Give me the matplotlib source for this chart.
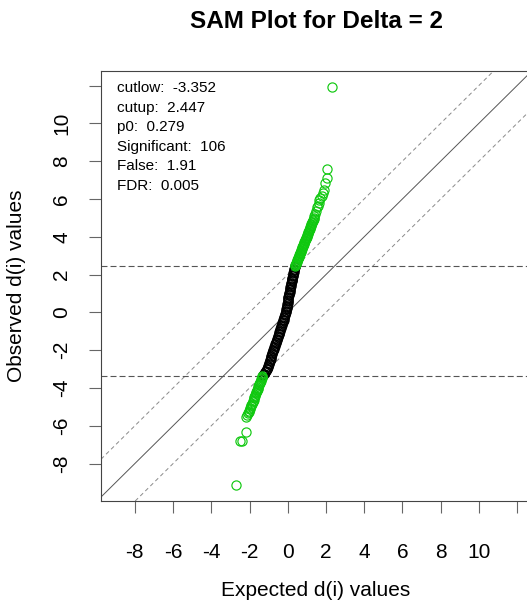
import matplotlib
matplotlib.use("Agg")
import matplotlib.pyplot as plt

plt.rcParams['font.family'] = ['Liberation Sans', 'DejaVu Sans']
plt.rcParams['lines.scale_dashes'] = False

# ---------------- data ----------------
title = "SAM Plot for Delta = 2"
xlabel = "Expected d(i) values"
ylabel = "Observed d(i) values"
delta = 2
cutlow = -3.352
cutup = 2.447
info_lines = ["cutlow:  -3.352", "cutup:  2.447", "p0:  0.279",
              "Significant:  106", "False:  1.91", "FDR:  0.005"]
tick_values = [-8, -6, -4, -2, 0, 2, 4, 6, 8, 10, 12]
tick_labels = ["-8", "-6", "-4", "-2", "0", "2", "4", "6", "8", "10", ""]

# non-significant genes (black)
ns_observed = [-3.34, -3.27, -3.17, -3.12, -3.02, -2.97, -2.88, -2.82, -2.73, -2.67,
               -2.58, -2.53, -2.45, -2.36, -2.30, -2.21, -2.16, -2.06, -2.01, -1.93,
               -1.84, -1.79, -1.69, -1.64, -1.56, -1.47, -1.42, -1.32, -1.27, -1.17,
               -1.12, -1.03, -0.97, -0.88, -0.82, -0.73, -0.68, -0.58, -0.53, -0.43,
               -0.38, -0.29, -0.23, -0.14, -0.08, 0.01, 0.06, 0.16, 0.21, 0.31,
               0.36, 0.45, 0.51, 0.60, 0.66, 0.75, 0.80, 0.90, 0.95, 1.05,
               1.10, 1.19, 1.25, 1.34, 1.40, 1.49, 1.54, 1.64, 1.69, 1.79,
               1.84, 1.93, 1.99, 2.08, 2.14, 2.23, 2.28, 2.38, 2.44]
ns_expected = [-1.30, -1.25, -1.19, -1.16, -1.10, -1.07, -1.04, -1.02, -0.99, -0.97,
               -0.94, -0.93, -0.90, -0.87, -0.85, -0.82, -0.81, -0.77, -0.76, -0.73,
               -0.70, -0.69, -0.65, -0.64, -0.61, -0.58, -0.56, -0.53, -0.52, -0.48,
               -0.47, -0.44, -0.42, -0.39, -0.37, -0.34, -0.32, -0.29, -0.27, -0.24,
               -0.22, -0.19, -0.18, -0.15, -0.13, -0.10, -0.09, -0.07, -0.06, -0.04,
               -0.04, -0.02, -0.01, 0.01, 0.02, 0.04, 0.04, 0.06, 0.07, 0.09,
               0.10, 0.12, 0.13, 0.14, 0.15, 0.17, 0.18, 0.20, 0.21, 0.23,
               0.24, 0.26, 0.28, 0.30, 0.31, 0.33, 0.34, 0.36, 0.38]

# significant genes, positive side (green)
up_observed = [2.47, 2.50, 2.54, 2.58, 2.63, 2.67, 2.71, 2.76, 2.80, 2.85,
               2.89, 2.94, 2.98, 3.03, 3.07, 3.12, 3.16, 3.21, 3.26, 3.30,
               3.35, 3.39, 3.44, 3.49, 3.53, 3.58, 3.63, 3.67, 3.72, 3.77,
               3.82, 3.86, 3.91, 3.96, 4.01, 4.06, 4.11, 4.16, 4.21, 4.26,
               4.31, 4.36, 4.41, 4.47, 4.52, 4.57, 4.62, 4.68, 4.73, 4.79,
               4.84, 4.90, 4.95, 5.01, 5.12, 5.22, 5.38, 5.55, 5.64, 5.77,
               5.93, 6.04, 6.15, 6.30, 6.48, 6.82, 7.12, 7.58, 11.93]
up_expected = [0.39, 0.40, 0.42, 0.43, 0.45, 0.47, 0.48, 0.50, 0.52, 0.54,
               0.55, 0.57, 0.59, 0.61, 0.62, 0.64, 0.66, 0.68, 0.70, 0.71,
               0.73, 0.75, 0.77, 0.78, 0.80, 0.82, 0.84, 0.85, 0.87, 0.89,
               0.91, 0.93, 0.95, 0.97, 0.99, 1.01, 1.02, 1.04, 1.06, 1.08,
               1.10, 1.12, 1.14, 1.16, 1.18, 1.20, 1.22, 1.24, 1.26, 1.29,
               1.31, 1.33, 1.35, 1.37, 1.40, 1.44, 1.49, 1.53, 1.57, 1.61,
               1.66, 1.71, 1.77, 1.83, 1.88, 1.95, 2.03, 2.08, 2.33]

# significant genes, negative side (green)
lo_observed = [-3.37, -3.43, -3.49, -3.55, -3.61, -3.67, -3.73, -3.79, -3.85, -3.91,
               -3.98, -4.04, -4.10, -4.17, -4.23, -4.29, -4.36, -4.42, -4.49, -4.55,
               -4.62, -4.69, -4.76, -4.83, -4.90, -4.97, -5.04, -5.12, -5.20, -5.28,
               -5.35, -5.45, -5.56, -6.33, -6.80, -6.83, -9.12]
lo_expected = [-1.33, -1.35, -1.37, -1.40, -1.42, -1.44, -1.46, -1.49, -1.51, -1.53,
               -1.56, -1.58, -1.60, -1.63, -1.65, -1.67, -1.70, -1.72, -1.74, -1.77,
               -1.79, -1.82, -1.84, -1.87, -1.90, -1.92, -1.95, -1.98, -2.01, -2.03,
               -2.06, -2.12, -2.18, -2.20, -2.38, -2.50, -2.70]

# ---------------- figure ----------------
W, H = 527, 604
fig = plt.figure(figsize=(W / 100, H / 100), dpi=100)
ax = fig.add_axes([101 / W, 1 - 501 / H, 431 / W, 430 / H])
ax.set_xlim(-9.77, 12.78)
ax.set_ylim(-9.98, 12.77)

# reference lines
ax.axline((0, 0), slope=1, color='#555555', lw=0.7, zorder=1)
ax.axline((0, delta), slope=1, color='#8a8a8a', lw=0.7, dashes=(2.9, 2.2), zorder=1)
ax.axline((0, -delta), slope=1, color='#8a8a8a', lw=0.7, dashes=(2.9, 2.2), zorder=1)
ax.axhline(cutup, color='#555555', lw=0.8, dashes=(4.3, 2.2), zorder=1)
ax.axhline(cutlow, color='#555555', lw=0.8, dashes=(4.3, 2.2), zorder=1)

# points
ax.plot(ns_expected, ns_observed, linestyle='none', marker='o', ms=6.6,
        mfc='none', mec='black', mew=0.9, zorder=2)
ax.plot(up_expected, up_observed, linestyle='none', marker='o', ms=6.6,
        mfc='none', mec='#10C810', mew=0.85, zorder=3)
ax.plot(lo_expected, lo_observed, linestyle='none', marker='o', ms=6.6,
        mfc='none', mec='#10C810', mew=0.85, zorder=3)

# axes styling
for s in ax.spines.values():
    s.set_color('#444444')
    s.set_linewidth(0.8)
ax.set_xticks(tick_values)
ax.set_xticklabels(tick_labels)
ax.set_yticks(tick_values)
ax.set_yticklabels(tick_labels, rotation=90, va='center')
ax.tick_params(axis='both', direction='out', length=8.5, width=0.8, color='#666666',
               labelsize=15, labelcolor='black')
ax.tick_params(axis='x', pad=22)
ax.tick_params(axis='y', pad=13)

# info text
for i, t in enumerate(info_lines):
    ax.text(117 / W, 1 - (88 + 19.6 * i) / H, t, transform=fig.transFigure,
            fontsize=11, va='center', ha='left')

fig.text(316 / W, 1 - 22 / H, title, fontsize=17.5, fontweight='bold',
         ha='center', va='center')
fig.text(316 / W, 1 - 590 / H, xlabel, fontsize=15, ha='center', va='center')
fig.text(17 / W, 1 - 286 / H, ylabel, fontsize=15, ha='center', va='center',
         rotation=90)

fig.savefig("out.png", dpi=100)
